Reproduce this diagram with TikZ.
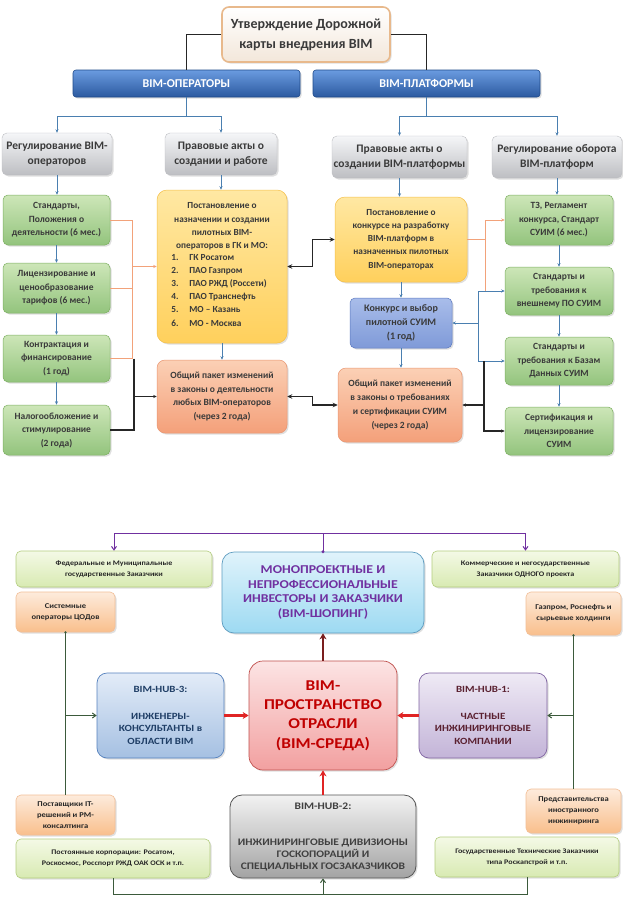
\documentclass[tikz,border=0pt]{standalone}
\usepackage{fontspec}
\setmainfont{Carlito}
\newfontfamily\widef[FakeStretch=1.15]{Carlito}
\usetikzlibrary{arrows.meta,shadows}
\newcommand\myfs[2]{\fontsize{#1}{#2}\selectfont}
\newcommand\placebox[7]{%
 \pgfmathsetmacro\pbw{#5-#3}\pgfmathsetmacro\pbh{#6-#4}%
 \pgfmathsetmacro\pbx{(#3+#5)/2}\pgfmathsetmacro\pby{(#4+#6)/2}%
 \node[#2, minimum width=\pbw pt, minimum height=\pbh pt, inner sep=0pt, align=center] (#1) at (\pbx,\pby) {#7};}
% colours
\definecolor{titlef}{HTML}{F3E7DA}\definecolor{titleb}{HTML}{E8B98C}
\definecolor{bart}{HTML}{6A9BE0}\definecolor{barbot}{HTML}{2C5AA0}\definecolor{barb}{HTML}{1F4A8A}
\definecolor{grayA}{HTML}{F5F6F8}\definecolor{grayB}{HTML}{BDBEC2}
\definecolor{grnA}{HTML}{CDE6B8}\definecolor{grnB}{HTML}{93C47D}\definecolor{grnb}{HTML}{7DB061}
\definecolor{yelA}{HTML}{FFE8A3}\definecolor{yelB}{HTML}{FFD05C}\definecolor{yelb}{HTML}{F5C04A}
\definecolor{salA}{HTML}{FBD0B5}\definecolor{salB}{HTML}{F4A07A}\definecolor{salb}{HTML}{E99570}
\definecolor{blA}{HTML}{A9BDEA}\definecolor{blB}{HTML}{7F9AD8}\definecolor{blb}{HTML}{5A78C0}
\definecolor{lblue}{HTML}{4A7FB0}\definecolor{lorange}{HTML}{F2A27A}\definecolor{txt}{HTML}{3A3A3A}
\definecolor{lgA}{HTML}{F4F9E6}\definecolor{lgB}{HTML}{D8EAB2}\definecolor{lgb}{HTML}{B3CD7E}
\definecolor{orA}{HTML}{FDEBDC}\definecolor{orB}{HTML}{F9BF8C}\definecolor{orb}{HTML}{EDA36A}
\definecolor{moA}{HTML}{E0F3FB}\definecolor{moB}{HTML}{9DDAF2}\definecolor{mob}{HTML}{5D9CC0}
\definecolor{hcA}{HTML}{E3ECF8}\definecolor{hcB}{HTML}{A5C0E2}\definecolor{hcb}{HTML}{5682BE}
\definecolor{biA}{HTML}{FCE4E4}\definecolor{biB}{HTML}{F2A0A0}\definecolor{bib}{HTML}{C0504D}
\definecolor{haA}{HTML}{EFEAF5}\definecolor{haB}{HTML}{C3B4D8}\definecolor{hab}{HTML}{8064A2}
\definecolor{hbA}{HTML}{F2F2F2}\definecolor{hbB}{HTML}{A3A3A3}\definecolor{hbb}{HTML}{555555}
\definecolor{purp}{HTML}{7030A0}\definecolor{darkred}{HTML}{7A1E1E}\definecolor{bred}{HTML}{E02424}
\definecolor{dgreen}{HTML}{3B5A3B}\definecolor{bitxt}{HTML}{C00000}\definecolor{hctxt}{HTML}{1F3E66}
\definecolor{hatxt}{HTML}{5A2030}\definecolor{hbtxt}{HTML}{404040}
\tikzset{
 shd/.style={drop shadow={opacity=0.25,shadow xshift=1.5pt,shadow yshift=-1.5pt}},
 base/.style={rounded corners=5pt, text=txt},
 titlebox/.style={base, draw=titleb, line width=1.6pt, top color=white, bottom color=titlef, rounded corners=7pt, font=\bfseries\myfs{14}{20}, shd},
 bar/.style={rounded corners=3pt, draw=barb, line width=0.6pt, top color=bart, bottom color=barbot, text=white, font=\bfseries\myfs{12}{13}, shd},
 graybox/.style={base, top color=grayA, bottom color=grayB, draw=grayB, line width=0.4pt, font=\bfseries\myfs{11.5}{15}, shd},
 greenbox/.style={base, top color=grnA, bottom color=grnB, draw=grnb, line width=0.5pt, font=\bfseries\myfs{9.5}{13.5}, shd},
 yelbox/.style={base, rounded corners=10pt, top color=yelA, bottom color=yelB, draw=yelb, line width=0.5pt, font=\bfseries\myfs{9.3}{13.2}, shd},
 salbox/.style={base, rounded corners=8pt, top color=salA, bottom color=salB, draw=salb, line width=0.5pt, font=\bfseries\myfs{9.5}{13.7}, shd},
 bluebox/.style={base, top color=blA, bottom color=blB, draw=blb, line width=0.5pt, font=\bfseries\myfs{10}{14}, shd},
 lgbox/.style={rounded corners=5pt, top color=lgA, bottom color=lgB, draw=lgb, line width=0.6pt, text=black!85, font=\widef\bfseries\myfs{7}{10.7}, shd},
 orbox/.style={rounded corners=5pt, top color=orA, bottom color=orB, draw=orb!70, line width=0.6pt, text=black!85, font=\widef\bfseries\myfs{7.4}{11}, shd},
 monobox/.style={rounded corners=12pt, top color=moA, bottom color=moB, draw=mob, line width=0.7pt, text=purp, font=\widef\bfseries\myfs{12}{14.5}, shd},
 hcbox/.style={rounded corners=10pt, top color=hcA, bottom color=hcB, draw=hcb, line width=0.7pt, text=hctxt, font=\widef\bfseries\myfs{9.5}{12.5}, shd},
 habox/.style={rounded corners=10pt, top color=haA, bottom color=haB, draw=hab, line width=0.7pt, text=hatxt, font=\widef\bfseries\myfs{9.5}{12.5}, shd},
 bimbox/.style={rounded corners=14pt, top color=biA, bottom color=biB, draw=bib, line width=0.7pt, text=bitxt, font=\widef\bfseries\myfs{15}{19.3}, shd},
 hbbox/.style={rounded corners=12pt, top color=hbA, bottom color=hbB, draw=hbb, line width=0.8pt, text=hbtxt, font=\widef\bfseries\myfs{10}{12}, shd},
 arr/.style={-{Stealth[length=3.5pt,width=3pt]}},
 darr/.style={{Stealth[length=5pt,width=4.5pt]}-{Stealth[length=5pt,width=4.5pt]}},
 barb/.style={-{Straight Barb[length=3.5pt,width=5pt]}},
 blu/.style={draw=lblue, line width=0.9pt},
 org/.style={draw=lorange, line width=1pt},
 blk/.style={draw=black!85, line width=1.3pt},
 pur/.style={draw=purp, line width=1pt},
 dgr/.style={draw=dgreen, line width=1pt},
 redarr/.style={draw=bred, line width=2.6pt, -{Stealth[length=6pt,width=7pt]}},
}
\begin{document}
\begin{tikzpicture}[x=1pt,y=-1pt]
\useasboundingbox (0,0) rectangle (623,902);
\fill[white] (0,0) rectangle (623,902);
% ---------- top part ----------
\placebox{title}{titlebox}{222}{7}{390}{62}{Утверждение Дорожной\\карты внедрения BIM}
\placebox{ops}{bar}{73}{70}{300}{97}{BIM-ОПЕРАТОРЫ}
\placebox{plat}{bar}{313}{70}{540}{97}{BIM-ПЛАТФОРМЫ}
\placebox{g1}{graybox}{2}{133}{112}{175}{Регулирование BIM-\\операторов}
\placebox{g2}{graybox}{165}{133}{277}{175}{Правовые акты о\\создании и работе}
\placebox{g3}{graybox}{332}{136}{467}{178}{Правовые акты о\\создании BIM-платформы}
\placebox{g4}{graybox}{492}{136}{622}{178}{Регулирование оборота\\BIM-платформ}
\placebox{lg1}{greenbox}{3}{195}{110}{245}{Стандарты,\\Положения о\\деятельности (6 мес.)}
\placebox{lg2}{greenbox}{3}{263}{110}{313}{Лицензирование и\\ценообразование\\тарифов (6 мес.)}
\placebox{lg3}{greenbox}{3}{335}{110}{382}{Контрактация и\\финансирование\\(1 год)}
\placebox{lg4}{greenbox}{3}{405}{110}{455}{Налогообложение и\\стимулирование\\(2 года)}
\placebox{ly}{yelbox}{157}{190}{287}{343}{Постановление о\\назначении и создании\\пилотных BIM-\\операторов в ГК и МО:\\
\renewcommand\arraystretch{1.0}\hspace*{-6pt}\begin{tabular}{@{}p{18pt}@{}l@{}}1.&ГК Росатом\\2.&ПАО Газпром\\3.&ПАО РЖД (Россети)\\4.&ПАО Транснефть\\5.&МО – Казань\\6.&МО - Москва\end{tabular}}
\placebox{ls}{salbox}{157}{360}{287}{433}{Общий пакет изменений\\в законы о деятельности\\любых BIM-операторов\\(через 2 года)}
\placebox{ry}{yelbox}{335}{197}{467}{282}{Постановление о\\конкурсе на разработку\\BIM-платформ в\\назначенных пилотных\\BIM-операторах}
\placebox{rb}{bluebox}{350}{298}{452}{348}{Конкурс и выбор\\пилотной СУИМ\\(1 год)}
\placebox{rs}{salbox}{338}{368}{462}{442}{Общий пакет изменений\\в законы о требованиях\\и сертификации СУИМ\\(через 2 года)}
\placebox{rg1}{greenbox}{505}{195}{613}{245}{ТЗ, Регламент\\конкурса, Стандарт\\СУИМ (6 мес.)}
\placebox{rg2}{greenbox}{505}{267}{613}{315}{Стандарты и\\требования к\\внешнему ПО СУИМ}
\placebox{rg3}{greenbox}{505}{337}{613}{385}{Стандарты и\\требования к Базам\\Данных СУИМ}
\placebox{rg4}{greenbox}{505}{407}{613}{455}{Сертификация и\\лицензирование\\СУИМ}
% title connectors
\draw[blk] (title.west) -| (ops.north);
\draw[blk] (title.east) -| (plat.north);
\draw[blu] (ops.south) -- ++(0,19) coordinate (oj);
\draw[blu,arr] (oj) -| (g1.north);
\draw[blu,arr] (oj) -| (g2.north);
\draw[blu] (plat.south) -- ++(0,19) coordinate (pj2);
\draw[blu,arr] (pj2) -| (g3.north);
\draw[blu,arr] (pj2) -| (g4.north);
% vertical small arrows
\draw[blu,arr] (g1.south) -- (g1.south |- lg1.north);
\draw[blu,arr] (lg1.south) -- (lg2.north);
\draw[blu,arr] (lg2.south) -- (lg3.north);
\draw[blu,arr] (lg3.south) -- (lg4.north);
\draw[blu,arr] (g2.south) -- (g2.south |- ly.north);
\draw[blu,arr] (ly.south) -- (ls.north);
\draw[blu,arr] (g3.south) -- (g3.south |- ry.north);
\draw[blu,arr] (ry.south) -- (ry.south |- rb.north);
\draw[blu,arr] (rb.south) -- (rb.south |- rs.north);
\draw[blu,arr] (g4.south) -- (g4.south |- rg1.north);
\draw[blu,arr] (rg1.south) -- (rg2.north);
\draw[blu,arr] (rg2.south) -- (rg3.north);
\draw[blu,arr] (rg3.south) -- (rg4.north);
% left buses
\coordinate (lo) at (132,0);
\coordinate (lk) at (134,0);
\draw[org] (lg1.east) -- (lo |- lg1.east) -- (lo |- lg3.east) -- (lg3.east);
\draw[org] (lg2.east) -- (lo |- lg2.east);
\draw[org,arr] (lo |- ly.west) -- (ly.west);
\draw[blk,line width=1.1pt] (lk |- lg3.east) -- (lk |- lg4.east) -- (lg4.east);
\draw[blk,line width=1.1pt,arr] (lk |- ls.west) -- (ls.west);
% middle black connectors
\draw[blk,darr] (ly.east) -- ++(25,0) |- (ry.west);
\draw[blk,darr] (ls.east) -- ++(25,0) |- (rs.west);
% right buses
\coordinate (ro) at (485,0);
\coordinate (rbb) at (478,0);
\coordinate (rk) at (484,0);
\draw[org] (ry.east) -- (ro |- ry.east);
\draw[org,arr] (ro |- rg2.west) -- (ro |- rg1.west) -- (rg1.west);
\draw[blu,arr] (rbb |- rg2.west) -- (rg2.west);
\draw[blu,arr] (rbb |- rg2.west) -- (rbb |- rg3.west) -- (rg3.west);
\draw[blu,arr] (rbb |- rb.east) -- (rb.east);
\draw[blk,line width=1.1pt,arr] (rk |- rg3.west) -- (rk |- rg4.west) -- (rg4.west);
\draw[blk,line width=1.1pt,arr] (rk |- rs.east) -- (rs.east);
% ---------- bottom part ----------
\placebox{fed}{lgbox}{16}{551}{212}{587}{Федеральные и Муниципальные\\государственные Заказчики}
\placebox{com}{lgbox}{432}{551}{619}{587}{Коммерческие и негосударственные\\Заказчики ОДНОГО проекта}
\placebox{mono}{monobox}{222}{552}{424}{633}{МОНОПРОЕКТНЫЕ И\\НЕПРОФЕССИОНАЛЬНЫЕ\\ИНВЕСТОРЫ И ЗАКАЗЧИКИ\\(BIM-ШОПИНГ)}
\placebox{sys}{orbox}{16}{592}{115}{632}{Системные\\операторы ЦОДов}
\placebox{gaz}{orbox}{526}{592}{621}{635}{Газпром, Роснефть и\\сырьевые холдинги}
\placebox{hub3}{hcbox}{97}{673}{224}{758}{BIM-HUB-3:\\[14pt]ИНЖЕНЕРЫ-\\КОНСУЛЬТАНТЫ в\\ОБЛАСТИ BIM}
\placebox{bim}{bimbox}{249}{661}{397}{770}{BIM-\\ПРОСТРАНСТВО\\ОТРАСЛИ\\(BIM-СРЕДА)}
\placebox{hub1}{habox}{419}{673}{547}{758}{BIM-HUB-1:\\[14pt]ЧАСТНЫЕ\\ИНЖИНИРИНГОВЫЕ\\КОМПАНИИ}
\placebox{post}{orbox}{16}{795}{115}{835}{Поставщики IT-\\решений и PM-\\консалтинга}
\placebox{pc}{lgbox}{16}{839}{210}{878}{Постоянные корпорации: Росатом,\\Роскосмос, Росспорт РЖД ОАК ОСК и т.п.}
\placebox{hub2}{hbbox}{230}{795}{416}{878}{BIM-HUB-2:\\[24pt]ИНЖИНИРИНГОВЫЕ ДИВИЗИОНЫ\\ГОСКОПОРАЦИЙ И\\СПЕЦИАЛЬНЫХ ГОСЗАКАЗЧИКОВ}
\placebox{pred}{orbox}{526}{789}{621}{833}{Представительства\\иностранного\\инжиниринга}
\placebox{gtz}{lgbox}{435}{837}{619}{877}{Государственные Технические Заказчики\\типа Роскапстрой и т.п.}
% purple
\draw[pur] (mono.north) -- ++(0,-18) coordinate (mj);
\fill[purp] (mono.north) circle (1.6pt);
\draw[pur,barb] (mj) -| (fed.north);
\draw[pur,barb] (mj) -| (com.north);
% red
\draw[draw=darkred, line width=2.2pt, -{Stealth[length=6pt,width=7pt]}] (bim.north) -- (mono.south);
\draw[redarr] (hub3.east) -- (bim.west |- hub3.east);
\draw[redarr] (hub1.west) -- (bim.east |- hub1.west);
\draw[redarr] (hub2.north) -- (bim.south);
% green side lines
\draw[dgr] (sys.south) -- (post.north);
\fill[dgreen] (sys.south) circle (1.3pt);
\draw[dgr,barb] (sys.south |- hub3.west) -- (hub3.west);
\draw[dgr] (gaz.south) -- (pred.north);
\fill[dgreen] (gaz.south) circle (1.3pt);
\draw[dgr,barb] (gaz.south |- hub1.east) -- (hub1.east);
\coordinate (bl) at (0,894);
\draw[dgr] (pc.south) -- (pc.south |- bl) -- (gtz.south |- bl) -- (gtz.south);
\draw[dgr,barb] (hub2.south |- bl) -- (hub2.south);
\end{tikzpicture}
\end{document}
